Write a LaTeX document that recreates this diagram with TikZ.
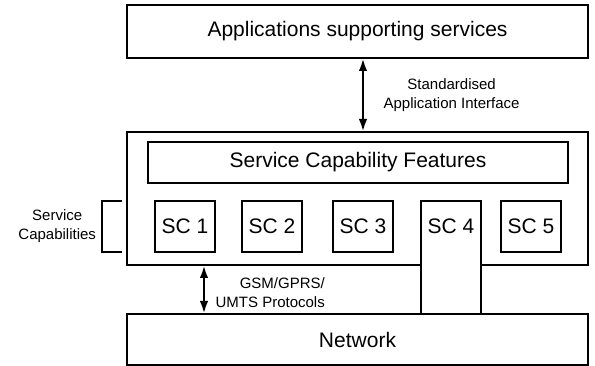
\documentclass[tikz,border=0pt]{standalone}
\usepackage{fontspec}
\setmainfont{Liberation Sans}
\usetikzlibrary{arrows.meta,positioning}
\tikzset{>={Latex[length=13pt,width=8.5pt]}}
\newcommand{\boxfont}{\fontsize{21}{25}\selectfont}
\newcommand{\notefont}{\fontsize{15}{19}\selectfont}

\begin{document}
\begin{tikzpicture}[x=1pt, y=-1pt, font=\boxfont,
		layer/.style={draw, line width=1.3pt, outer sep=0pt, minimum width=461pt},
		scbox/.style={draw, line width=1.3pt, outer sep=0pt, fill=white, minimum width=60pt, minimum height=51pt},
		note/.style={font=\notefont, align=center},
		link/.style={<->, line width=2.6pt}]
		\useasboundingbox (0,0) rectangle (595,366);
		
		\node[layer, minimum height=53pt] (apps) at (357.5,31.5) {Applications supporting services};
		\node[layer, minimum height=133pt] (scs) at (357.5,198.5) {};
		\node[layer, minimum height=51pt] (network) at (357.5,339.5) {Network};
		\node[draw, line width=1.3pt, outer sep=0pt, minimum width=420pt, minimum height=41pt] (scf) at (358,162.5) {Service Capability Features};
		
		\node[scbox] (sc1) at (185,226.5) {SC 1};
		\node[scbox, right=27pt of sc1] (sc2) {SC 2};
		\node[scbox, right=31pt of sc2] (sc3) {SC 3};
		\node[scbox, minimum height=113pt, anchor=north west, label={[anchor=center, yshift=-25.5pt]north:SC 4}] (sc4) at ([xshift=28pt]sc3.north east) {};
		\node[scbox, anchor=north west] (sc5) at ([xshift=20pt]sc4.north east) {SC 5};
		
		% bracket round the SC boxes
		\coordinate (brk) at ([xshift=-5pt]scs.west);
		\draw[line width=1.3pt] (brk |- sc1.north) -- ++(-20,0) -- ++(0,51) node[note, midway, left=2pt] (sclabel) {Service\\Capabilities} -- ++(20,0);
		
		\coordinate (api) at ([xshift=5.5pt]apps.south);
		\draw[link] (api) -- node[note, right=16pt] (apilabel) {Standardised\\Application Interface} (api |- scs.north);
		
		\coordinate (gsm) at (204,0);
		\draw[link] (scs.south -| gsm) -- node[note, align=right, right=7pt, yshift=-3pt] (gsmlabel) {GSM/GPRS/\\UMTS Protocols} (network.north -| gsm);
	\end{tikzpicture}
\end{document}
